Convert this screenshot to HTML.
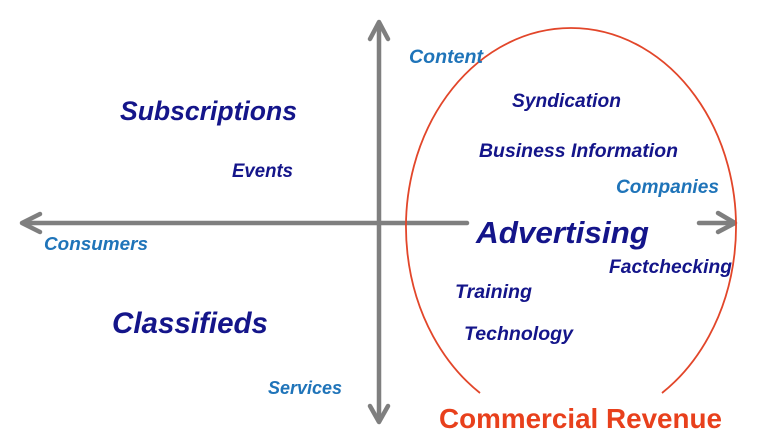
<!DOCTYPE html>
<html>
<head>
<meta charset="utf-8">
<style>
  html,body{margin:0;padding:0;background:#fff;}
  body{width:771px;height:443px;overflow:hidden;}
  svg{display:block;}
  text{font-family:"Liberation Sans",sans-serif;font-weight:bold;font-style:italic;}
  .n{fill:#14158a;}
  .b{fill:#1f74b9;}
</style>
</head>
<body>
<svg width="771" height="443" viewBox="0 0 771 443" xmlns="http://www.w3.org/2000/svg">
  <rect width="771" height="443" fill="#fff"/>
  <g stroke="#7f7f7f" stroke-width="4.5" fill="none" stroke-linecap="round" stroke-linejoin="round">
    <!-- vertical axis -->
    <line x1="379" y1="23" x2="379" y2="421"/>
    <polyline points="370,39 379,22 388,39"/>
    <polyline points="370,406 379,422 388,406"/>
    <!-- horizontal axis -->
    <line x1="23" y1="223" x2="467" y2="223"/>
    <line x1="699" y1="223" x2="734" y2="223"/>
    <polyline points="40,214 22,223 40,232"/>
    <polyline points="718,213 735,223 718,232"/>
  </g>
  <!-- ellipse arc -->
  <path d="M 480 393 A 165 199 0 1 1 662 393" fill="none" stroke="#e2462a" stroke-width="1.8"/>

  <text class="n" x="120" y="120" font-size="27" textLength="177" lengthAdjust="spacingAndGlyphs">Subscriptions</text>
  <text class="n" x="232" y="177" font-size="19" textLength="61" lengthAdjust="spacingAndGlyphs">Events</text>
  <text class="b" x="44" y="250" font-size="18.5" textLength="104" lengthAdjust="spacingAndGlyphs">Consumers</text>
  <text class="n" x="112" y="333" font-size="30" textLength="156" lengthAdjust="spacingAndGlyphs">Classifieds</text>
  <text class="b" x="268" y="394" font-size="18.5" textLength="74" lengthAdjust="spacingAndGlyphs">Services</text>
  <text class="b" x="409" y="63" font-size="19" textLength="74" lengthAdjust="spacingAndGlyphs">Content</text>
  <text class="n" x="512" y="107" font-size="19.5" textLength="109" lengthAdjust="spacingAndGlyphs">Syndication</text>
  <text class="n" x="479" y="157" font-size="19.5" textLength="199" lengthAdjust="spacingAndGlyphs">Business Information</text>
  <text class="b" x="616" y="193" font-size="19.5" textLength="103" lengthAdjust="spacingAndGlyphs">Companies</text>
  <text class="n" x="476" y="243" font-size="31" textLength="173" lengthAdjust="spacingAndGlyphs">Advertising</text>
  <text class="n" x="609" y="273" font-size="19.5" textLength="123" lengthAdjust="spacingAndGlyphs">Factchecking</text>
  <text class="n" x="455" y="298" font-size="19.5" textLength="77" lengthAdjust="spacingAndGlyphs">Training</text>
  <text class="n" x="464" y="340" font-size="19.5" textLength="109" lengthAdjust="spacingAndGlyphs">Technology</text>
  <text x="439" y="428" font-size="28" fill="#e8401c" style="font-style:normal" textLength="283" lengthAdjust="spacingAndGlyphs">Commercial Revenue</text>
</svg>
</body>
</html>
